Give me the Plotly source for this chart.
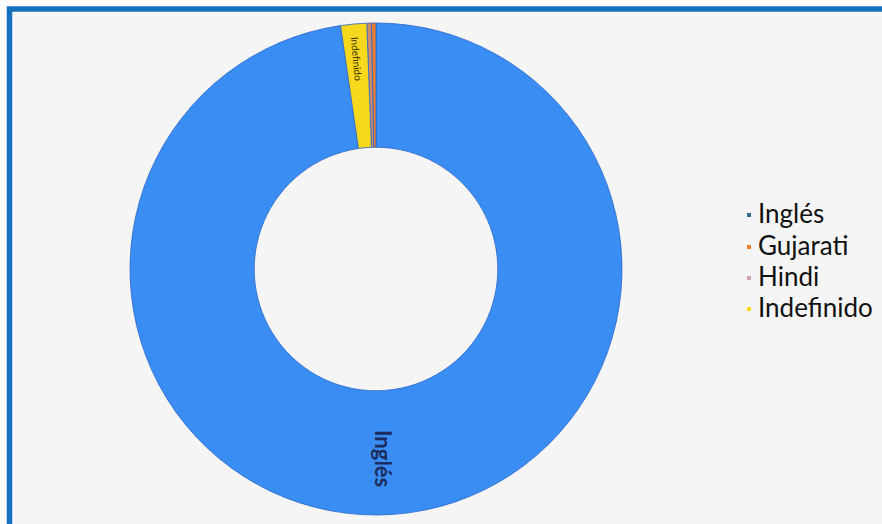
import plotly.graph_objects as go

categories = ["Inglés", "Gujarati", "Hindi", "Indefinido"]
values = [97.7, 0.3, 0.3, 1.7]
slice_text = ["", "", "", "Indefinido"]
colors = ["#3a8df2", "#ED7D31", "#d08a6a", "#f8d81c"]
legend_marker_colors = ["#2f6e8a", "#ED7D31", "#c9a8b0", "#f8d81c"]
big_label = categories[0]

W, H = 882, 524
cx, cy, R = 376, 269, 246

fig = go.Figure()
fig.add_trace(go.Pie(
    labels=categories,
    values=values,
    sort=False,
    direction="counterclockwise",
    rotation=0,
    hole=0.495,
    marker=dict(colors=colors, line=dict(color="#2a66cc", width=0.8)),
    text=slice_text,
    texttemplate="%{text}",
    textposition="inside",
    insidetextorientation="radial",
    textfont=dict(family="Lato", size=10, color="#3b3000"),
    showlegend=False,
    hoverinfo="label+percent",
    domain=dict(x=[(cx - R) / W, (cx + R) / W],
                y=[(H - cy - R) / H, (H - cy + R) / H]),
))

shapes = [dict(type="rect", xref="paper", yref="paper",
               x0=9.5 / W, x1=1.05, y0=-0.05, y1=1 - 9 / H,
               line=dict(color="#1570c0", width=5.5),
               fillcolor="#f5f5f5", layer="below")]

annotations = [dict(
    x=384 / W, y=1 - 458 / H, xref="paper", yref="paper",
    xanchor="center", yanchor="middle", showarrow=False, textangle=90,
    text="<b>" + big_label + "</b>",
    font=dict(family="Lato", size=22, color="#1c2c5c"))]

line_y = [213, 245, 276, 307]
for i, cat in enumerate(categories):
    yc = line_y[i]
    annotations.append(dict(
        x=756 / W, y=1 - yc / H, xref="paper", yref="paper",
        xanchor="left", yanchor="middle", showarrow=False,
        text=cat, font=dict(family="Lato", size=26, color="#111111")))
    shapes.append(dict(type="rect", xref="paper", yref="paper",
                       x0=747 / W, x1=751 / W,
                       y0=1 - (yc + 4) / H, y1=1 - (yc) / H,
                       line=dict(width=0), fillcolor=legend_marker_colors[i]))

fig.update_layout(
    width=W, height=H,
    margin=dict(l=0, r=0, t=0, b=0),
    paper_bgcolor="#ffffff",
    shapes=shapes,
    annotations=annotations,
    showlegend=False,
)

fig.write_html("out.html",
               config={"displayModeBar": False},
               post_script="document.body.style.margin='0px';document.body.style.overflow='hidden';")
